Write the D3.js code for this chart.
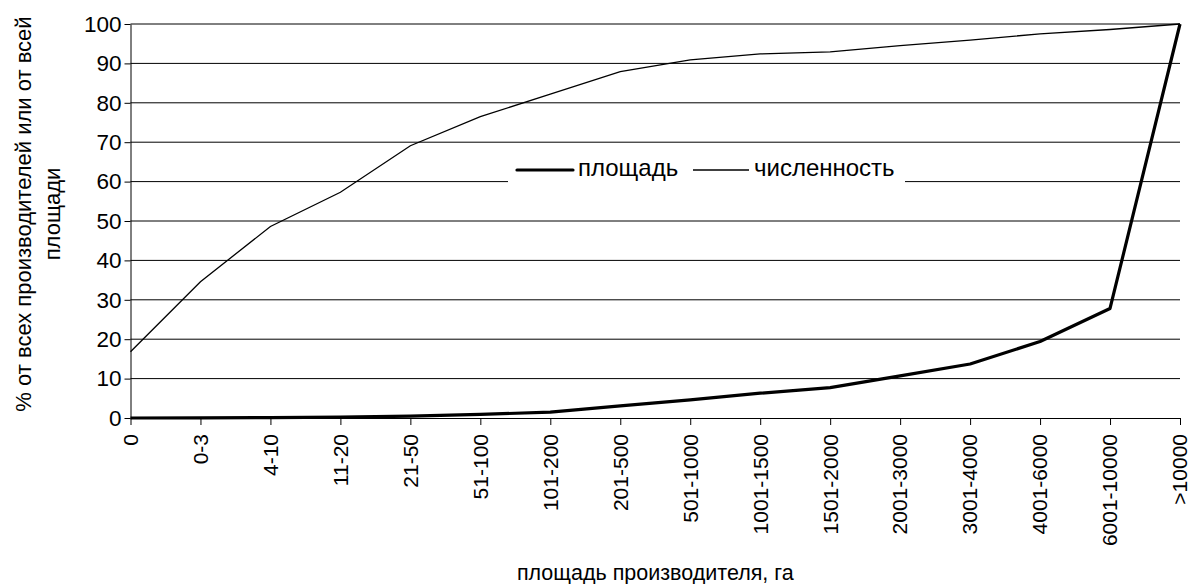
<!DOCTYPE html>
<html>
<head>
<meta charset="utf-8">
<script src="https://cdn.jsdelivr.net/npm/d3@7"></script>
<style>
  body { margin: 0; background: #fff; }
  text { font-family: "Liberation Sans", Arial, sans-serif; fill: #000; }
</style>
</head>
<body>
<div id="app"></div>
<script>
// size classes of producers, ha
var categories = ["0", "0-3", "4-10", "11-20", "21-50", "51-100", "101-200", "201-500",
  "501-1000", "1001-1500", "1501-2000", "2001-3000", "3001-4000", "4001-6000",
  "6001-10000", ">10000"];

// cumulative % of total area
var areaValues = [0, 0.05, 0.1, 0.2, 0.5, 0.9, 1.5, 3.1, 4.6, 6.3, 7.7, 10.7, 13.7, 19.4, 27.8, 100];

// cumulative % of producers count
var countValues = [16.8, 34.6, 48.6, 57.3, 69.1, 76.5, 82.2, 87.9, 90.9, 92.4, 92.9, 94.5, 95.9, 97.5, 98.6, 100];

var yTicks = [0, 10, 20, 30, 40, 50, 60, 70, 80, 90, 100];

var seriesNames = ["площадь", "численность"];

var width = 1190, height = 584;
var margin = {top: 24, right: 10, bottom: 166, left: 130.5};

var x = d3.scalePoint()
    .domain(categories)
    .range([margin.left, width - margin.right]);

var y = d3.scaleLinear()
    .domain([0, 100])
    .range([height - margin.bottom, margin.top]);

var svg = d3.select("#app").append("svg")
    .attr("width", width)
    .attr("height", height);

// grid
svg.append("g")
    .attr("class", "grid")
  .selectAll("line")
  .data(yTicks.filter(function(d) { return d > 0; }))
  .enter().append("line")
    .attr("x1", x.range()[0])
    .attr("x2", x.range()[1])
    .attr("y1", function(d) { return y(d); })
    .attr("y2", function(d) { return y(d); })
    .attr("stroke", "#000")
    .attr("stroke-width", 1);

// y axis
var gy = svg.append("g")
    .attr("transform", "translate(" + margin.left + ",0)")
    .call(d3.axisLeft(y).tickValues(yTicks).tickSize(6).tickPadding(3).tickSizeOuter(0));
gy.selectAll("text").style("font-size", "22.5px");
gy.selectAll("line, path").attr("stroke", "#000");

// x axis
var gx = svg.append("g")
    .attr("transform", "translate(0," + y(0) + ")")
    .call(d3.axisBottom(x).tickSize(7).tickSizeOuter(0));
gx.selectAll("line, path").attr("stroke", "#000");
gx.selectAll("text")
    .style("font-size", "21px")
    .attr("text-anchor", "end")
    .attr("y", null)
    .attr("dy", "0.35em")
    .attr("transform", "translate(-0.5,16) rotate(-90)");

// lines
var line = d3.line()
    .x(function(d, i) { return x(categories[i]); })
    .y(function(d) { return y(d); });

svg.append("path")
    .datum(countValues)
    .attr("fill", "none")
    .attr("stroke", "#000")
    .attr("stroke-width", 1.3)
    .attr("d", line);

svg.append("path")
    .datum(areaValues)
    .attr("fill", "none")
    .attr("stroke", "#000")
    .attr("stroke-width", 3.2)
    .attr("stroke-linejoin", "round")
    .attr("d", line);

// legend
var legend = svg.append("g").attr("class", "legend");
legend.append("rect")
    .attr("x", 508).attr("y", 150)
    .attr("width", 397).attr("height", 40)
    .attr("fill", "#fff");

var items = [
  {name: seriesNames[0], w: 3.2, x0: 517},
  {name: seriesNames[1], w: 1.3, x0: 693}
];
items.forEach(function(it) {
  legend.append("line")
      .attr("x1", it.x0).attr("x2", it.x0 + 56)
      .attr("y1", 170).attr("y2", 170)
      .attr("stroke", "#000")
      .attr("stroke-width", it.w)
      .attr("stroke-linecap", it.w > 2 ? "round" : "butt");
  legend.append("text")
      .attr("x", it.x0 + 61)
      .attr("y", 176)
      .style("font-size", "24px")
      .text(it.name);
});

// axis titles
svg.append("text")
    .attr("x", (x.range()[0] + x.range()[1]) / 2)
    .attr("y", 580)
    .attr("text-anchor", "middle")
    .style("font-size", "21.5px")
    .text("площадь производителя, га");

var yt = svg.append("text")
    .attr("transform", "translate(0,214) rotate(-90)")
    .attr("text-anchor", "middle")
    .style("font-size", "22px");
yt.append("tspan").attr("x", 0).attr("y", 31).text("% от всех производителей или от всей");
yt.append("tspan").attr("x", 0).attr("y", 60).text("площади");
</script>
</body>
</html>
